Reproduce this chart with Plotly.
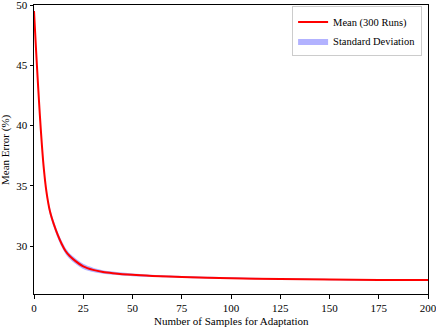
import plotly.graph_objects as go

# samples used for adaptation
samples = [0, 1, 2, 3, 4, 5, 6, 7, 8, 9, 10, 12, 14, 16, 18, 20, 25, 30, 35, 40,
           50, 60, 75, 100, 125, 150, 175, 200]
# mean error (%) over 300 runs
mean_err = [49.5, 46.4, 43.5, 40.8, 38.4, 36.4, 34.9, 33.8, 32.95, 32.35, 31.85, 30.95, 30.2, 29.6, 29.2, 28.9,
            28.32, 28.03, 27.86, 27.76, 27.62, 27.53, 27.44, 27.34, 27.27, 27.23, 27.2, 27.19]
# standard deviation
std_err = [0.35, 0.35, 0.35, 0.34, 0.33, 0.32, 0.31, 0.3, 0.3, 0.29, 0.28, 0.27, 0.26, 0.25, 0.24, 0.23,
           0.21, 0.18, 0.15, 0.13, 0.11, 0.09, 0.08, 0.07, 0.06, 0.05, 0.05, 0.05]

upper = [m + s for m, s in zip(mean_err, std_err)]
lower = [m - s for m, s in zip(mean_err, std_err)]

font = "Liberation Serif"

fig = go.Figure()
fig.add_trace(go.Scatter(x=samples, y=upper, mode="lines", line=dict(width=0, shape="spline", smoothing=0.8),
                         showlegend=False, hoverinfo="skip"))
fig.add_trace(go.Scatter(x=samples, y=lower, mode="lines", line=dict(width=0, shape="spline", smoothing=0.8),
                         fill="tonexty", fillcolor="rgba(0,0,255,0.3)", name="Standard Deviation"))
fig.add_trace(go.Scatter(x=samples, y=mean_err, mode="lines",
                         line=dict(color="red", width=2, shape="spline", smoothing=0.8),
                         name="Mean (300 Runs)"))

axis = dict(showline=True, linecolor="black", linewidth=1, mirror=True, ticks="outside",
            ticklen=3.5, tickcolor="black", showgrid=False, zeroline=False, automargin=False,
            ticklabeloverflow="allow", tickfont=dict(family=font, size=11, color="black"))

fig.update_layout(
    width=436, height=327,
    margin=dict(l=34, r=8, t=5, b=33),
    plot_bgcolor="white", paper_bgcolor="white",
    font=dict(family=font, size=11, color="black"),
    xaxis=dict(axis, range=[0, 200], tickvals=[0, 25, 50, 75, 100, 125, 150, 175, 200]),
    yaxis=dict(axis, range=[26.03, 50], tickvals=[30, 35, 40, 45, 50]),
    legend=dict(x=0.985, y=0.995, xanchor="right", yanchor="top", traceorder="reversed",
                bgcolor="white", bordercolor="#cccccc", borderwidth=1, itemwidth=30,
                tracegroupgap=0, font=dict(family=font, size=10.5)),
    annotations=[
        dict(text="Number of Samples for Adaptation", xref="paper", yref="paper", x=0.5, y=0,
             yshift=-19, yanchor="top", showarrow=False, font=dict(family=font, size=11)),
        dict(text="Mean Error (%)", xref="paper", yref="paper", x=0, y=0.5, xshift=-20,
             xanchor="right", textangle=-90, showarrow=False, font=dict(family=font, size=11)),
    ],
)

# page body has a default 8px margin; drop it so the figure fills the window
fig.write_html("out.html", config={"displayModeBar": False},
               post_script="document.body.style.margin='0';")
